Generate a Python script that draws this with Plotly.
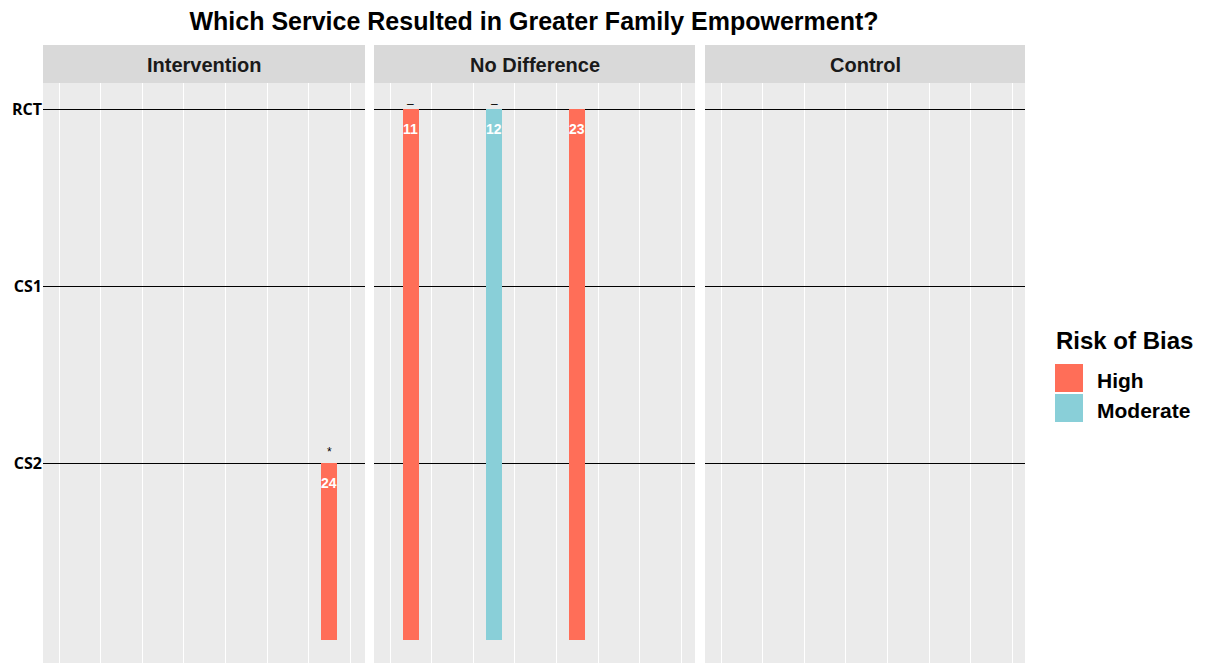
'''
    Faceted bar chart: study design reached per outcome group, coloured by risk of bias.
'''
import plotly.graph_objects as go

# facets and design levels
panels = ['Intervention', 'No Difference', 'Control']
design_levels = ['CS2', 'CS1', 'RCT']

# one entry per study
study_ids = ['24', '11', '12', '23']
study_panel = ['Intervention', 'No Difference', 'No Difference', 'No Difference']
study_pos = [6.5, 0.5, 2.5, 4.5]
study_design = ['CS2', 'RCT', 'RCT', 'RCT']
study_risk = ['High', 'High', 'Moderate', 'High']
study_mark = ['*', '–', '–', '']

risk_levels = ['High', 'Moderate']
risk_colors = {'High': '#FF6E58', 'Moderate': '#89CFD8'}

# the page puts the figure 8px in from the top-left corner
OFF = 8
W, H = 1206 - OFF, 663 - OFF
L, R, T, B = 43, 1025, 83, 663
pw = R - L
ph = B - T


def px_x(x):
    return (x - L) / pw


def px_y(y):
    return (B - y) / ph


panel_px = [(43, 365), (374, 695), (705, 1025)]
level_val = {d: i + 1 for i, d in enumerate(design_levels)}

fig = go.Figure()

for i, panel in enumerate(panels):
    ax = '' if i == 0 else str(i + 1)
    idx = [k for k in range(len(study_ids)) if study_panel[k] == panel]
    for risk in risk_levels:
        sel = [k for k in idx if study_risk[k] == risk]
        fig.add_trace(go.Bar(
            x=[study_pos[k] for k in sel],
            y=[level_val[study_design[k]] for k in sel],
            width=0.385,
            marker=dict(color=risk_colors[risk], line=dict(width=0)),
            name=risk,
            showlegend=False,
            xaxis='x' + ax, yaxis='y' + ax,
        ))
    for k in idx:
        yv = level_val[study_design[k]]
        fig.add_annotation(
            x=study_pos[k], y=yv, xref='x' + ax, yref='y' + ax,
            text='<b>' + study_ids[k] + '</b>', showarrow=False,
            font=dict(color='white', size=14, family='Arial'),
            yanchor='middle', yshift=-20,
        )
        if study_mark[k]:
            fig.add_annotation(
                x=study_pos[k], y=yv, xref='x' + ax, yref='y' + ax,
                text=study_mark[k], showarrow=False,
                font=dict(color='black', size=12, family='Arial'),
                yanchor='bottom', yshift=-4 if study_mark[k] == '–' else 2,
            )

    x0, x1 = panel_px[i]
    fig.update_layout({
        'xaxis' + ax: dict(
            domain=[px_x(x0), px_x(x1)],
            range=[-16 / 41.6, (x1 - x0 - 16) / 41.6],
            tickvals=list(range(8)), showticklabels=False, ticks='',
            showgrid=True, gridcolor='white', gridwidth=1.2,
            zeroline=False, showline=False,
            anchor='y' + ax, fixedrange=True,
        ),
        'yaxis' + ax: dict(
            range=[-23 / 177, 3 + 26 / 177],
            tickvals=[1, 2, 3], ticktext=design_levels,
            showticklabels=(i == 0), ticks='',
            showgrid=True, gridcolor='black', gridwidth=1.3,
            zeroline=False, showline=False,
            tickfont=dict(size=16, color='black', family='Open Sans', weight='bold'),
            anchor='x' + ax, fixedrange=True,
            **({} if i == 0 else {'matches': 'y'}),
        ),
    })

    # facet strip
    fig.add_shape(type='rect', xref='paper', yref='paper',
                  x0=px_x(x0), x1=px_x(x1), y0=px_y(83), y1=px_y(45),
                  fillcolor='#D9D9D9', line=dict(width=0), layer='below')
    fig.add_annotation(x=(px_x(x0) + px_x(x1)) / 2, y=px_y(65), xref='paper', yref='paper',
                       text='<b>' + panel + '</b>', showarrow=False,
                       xanchor='center', yanchor='middle',
                       font=dict(size=20, color='#1A1A1A', family='Arial'))

# legend drawn by hand to get the large ggplot-style keys
fig.add_annotation(x=px_x(1054), y=px_y(340), xref='paper', yref='paper',
                   text='<b>Risk of Bias</b>', showarrow=False,
                   xanchor='left', yanchor='middle',
                   font=dict(size=24, color='black', family='Arial'))
for j, risk in enumerate(risk_levels):
    top = 364 + j * 30
    fig.add_shape(type='rect', xref='paper', yref='paper',
                  x0=px_x(1055), x1=px_x(1083), y0=px_y(top + 28), y1=px_y(top),
                  fillcolor=risk_colors[risk], line=dict(width=0))
    fig.add_annotation(x=px_x(1095), y=px_y(top + 16), xref='paper', yref='paper',
                       text='<b>' + risk + '</b>', showarrow=False,
                       xanchor='left', yanchor='middle',
                       font=dict(size=21, color='black', family='Arial'))

fig.update_layout(
    width=W, height=H,
    margin=dict(l=L - OFF, r=W - (R - OFF), t=T - OFF, b=H - (B - OFF)),
    paper_bgcolor='white',
    plot_bgcolor='#EBEBEB',
    bargap=0,
    showlegend=False,
    title=dict(
        text='<b>Which Service Resulted in Greater Family Empowerment?</b>',
        x=(534 - OFF) / W, xanchor='center', y=1 - (21 - OFF) / H, yanchor='middle',
        font=dict(size=25, color='black', family='Arial'),
    ),
)

fig.write_html('out.html')
